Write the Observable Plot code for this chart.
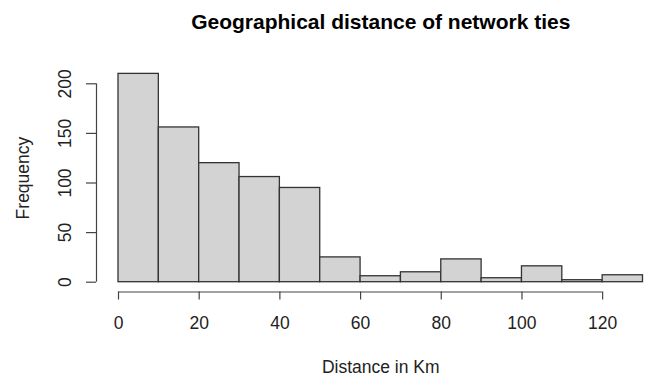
<!DOCTYPE html>
<html>
<head>
<meta charset="utf-8">
<script src="https://cdn.jsdelivr.net/npm/d3@7"></script>
<script src="https://cdn.jsdelivr.net/npm/@observablehq/plot@0.6"></script>
<style>
  html, body { margin: 0; padding: 0; background: #fff; }
  #chart svg { display: block; }
</style>
</head>
<body>
<div id="chart"></div>
<script>
// Histogram bin edges (km) and counts per bin
const binEdges = [0, 10, 20, 30, 40, 50, 60, 70, 80, 90, 100, 110, 120, 130];
const counts   = [210, 156, 120, 106, 95, 25, 6, 10, 23, 4, 16, 2, 7];
const xTicks = [0, 20, 40, 60, 80, 100, 120];
const yTicks = [0, 50, 100, 150, 200];
const titleText = "Geographical distance of network ties";
const xLabel = "Distance in Km";
const yLabel = "Frequency";

const bins = counts.map((c, i) => ({x1: binEdges[i], x2: binEdges[i + 1], count: c}));
const xMid = (d3.min(binEdges) + d3.max(binEdges)) / 2;
const yMid = d3.max(counts) / 2;

const font = "17.5px";
const ink = "#222";

const chart = Plot.plot({
  width: 648,
  height: 377,
  marginTop: 0,
  marginRight: 0,
  marginLeft: 96,
  marginBottom: 85.5,
  style: {fontFamily: "'Liberation Sans', Arial, Helvetica, sans-serif", background: "#fff", color: ink},
  x: {domain: [d3.min(binEdges), d3.max(binEdges)], range: [118, 642.5]},
  y: {domain: [d3.min(yTicks), d3.max(yTicks)], range: [281.7, 83.3]},
  marks: [
    Plot.rectY(bins, {x1: "x1", x2: "x2", y1: 0, y2: "count", fill: "#d3d3d3", stroke: "#333", strokeWidth: 1.3}),
    // x axis
    Plot.ruleY([0], {x1: () => d3.min(xTicks), x2: () => d3.max(xTicks), dy: 9.8, stroke: "#444", strokeWidth: 1.2}),
    Plot.axisX({ticks: xTicks, tickSize: 8, tickPadding: 17, fontSize: font, label: null, stroke: "#444", strokeWidth: 1.2, fill: ink}),
    // y axis
    Plot.ruleX([0], {y1: () => d3.min(yTicks), y2: () => d3.max(yTicks), dx: -22, stroke: "#444", strokeWidth: 1.2}),
    Plot.axisY({ticks: yTicks, tickSize: 10, tickFormat: () => "", label: null, stroke: "#444", strokeWidth: 1.2}),
    Plot.text(yTicks, {y: d => d, text: d => String(d), frameAnchor: "left", dx: -31.5, rotate: -90, fontSize: font, fill: ink, textAnchor: "middle", lineAnchor: "middle"}),
    // labels
    Plot.text([yLabel], {y: () => yMid, text: d => d, frameAnchor: "left", dx: -73.4, rotate: -90, fontSize: font, fill: ink, textAnchor: "middle", lineAnchor: "middle"}),
    Plot.text([xLabel], {x: () => xMid, text: d => d, frameAnchor: "bottom", dy: 80.5, fontSize: font, fill: ink, textAnchor: "middle", lineAnchor: "bottom"}),
    Plot.text([titleText], {x: () => xMid, text: d => d, frameAnchor: "top", dy: 28.3, fontSize: "21px", fontWeight: "bold", fill: "#000", textAnchor: "middle", lineAnchor: "bottom"})
  ]
});
document.getElementById("chart").appendChild(chart);
</script>
</body>
</html>
